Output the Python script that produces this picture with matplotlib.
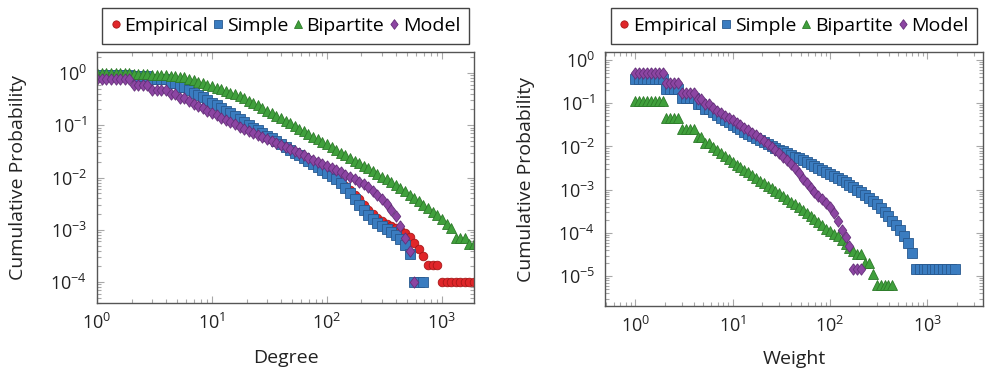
import numpy as np
import matplotlib
matplotlib.use('Agg')
import matplotlib.pyplot as plt
from matplotlib.ticker import LogLocator, NullFormatter

plt.rcParams['font.family'] = ['Open Sans', 'DejaVu Sans']
plt.rcParams['mathtext.default'] = 'regular'

# x positions of the plotted samples (shared by both panels)
x_grid = [1.0, 1.1, 1.2, 1.32, 1.45, 1.58, 1.74, 1.91, 2.09, 2.29,
          2.51, 2.75, 3.02, 3.31, 3.63, 3.98, 4.37, 4.79, 5.25, 5.75,
          6.31, 6.92, 7.59, 8.32, 9.12, 10.0, 11.0, 12.0, 13.2, 14.5,
          15.8, 17.4, 19.1, 20.9, 22.9, 25.1, 27.5, 30.2, 33.1, 36.3,
          39.8, 43.7, 47.9, 52.5, 57.5, 63.1, 69.2, 75.9, 83.2, 91.2,
          100, 110, 120, 132, 145, 158, 174, 191, 209, 229,
          251, 275, 302, 331, 363, 398, 437, 479, 525, 575,
          631, 692, 759, 832, 912, 1000, 1100, 1200, 1320, 1450,
          1580, 1740, 1910]

# left panel: degree CCDF
deg_empirical = [0.9, 0.9, 0.9, 0.9, 0.9, 0.9, 0.9, 0.9, 0.86, 0.86,
                 0.86, 0.86, 0.75, 0.75, 0.75, 0.75, 0.63, 0.63, 0.54, 0.54,
                 0.47, 0.42, 0.38, 0.34, 0.3, 0.27, 0.24, 0.215, 0.19, 0.168,
                 0.148, 0.13, 0.115, 0.102, 0.09, 0.08, 0.071, 0.063, 0.056, 0.049,
                 0.044, 0.039, 0.034, 0.03, 0.027, 0.0235, 0.0205, 0.018, 0.0158, 0.0138,
                 0.012, 0.0105, 0.0093, 0.008, 0.0068, 0.0058, 0.0047, 0.0038, 0.003, 0.0024,
                 0.002, 0.0017, 0.0015, 0.0013, 0.0012, 0.0011, 9.8e-4, 8.5e-4, 7.2e-4, 5.5e-4,
                 4.2e-4, 3.1e-4, 2.1e-4, 2.1e-4, 2.1e-4, 1e-4, 1e-4, 1e-4, 1e-4, 1e-4,
                 1e-4, 1e-4, 1e-4]
deg_simple = [0.9, 0.9, 0.9, 0.9, 0.9, 0.9, 0.9, 0.9, 0.86, 0.86,
              0.86, 0.86, 0.75, 0.75, 0.75, 0.75, 0.63, 0.63, 0.54, 0.54,
              0.47, 0.42, 0.38, 0.34, 0.3, 0.27, 0.24, 0.215, 0.19, 0.168,
              0.148, 0.13, 0.115, 0.102, 0.09, 0.08, 0.071, 0.063, 0.056, 0.049,
              0.044, 0.039, 0.034, 0.03, 0.027, 0.0235, 0.0205, 0.018, 0.0158, 0.0138,
              0.012, 0.0105, 0.0092, 0.0078, 0.0064, 0.005, 0.0039, 0.003, 0.0024, 0.0019,
              0.0016, 0.00135, 0.0012, 0.00105, 9.2e-4, 8e-4, 6.8e-4, 5.2e-4, 3.5e-4, 1e-4,
              1e-4, 1e-4]
deg_bipartite = [1.0, 1.0, 1.0, 1.0, 1.0, 1.0, 1.0, 1.0, 0.97, 0.97,
                 0.97, 0.97, 0.93, 0.93, 0.93, 0.93, 0.88, 0.88, 0.82, 0.82,
                 0.77, 0.72, 0.68, 0.64, 0.6, 0.56, 0.52, 0.49, 0.45, 0.42,
                 0.39, 0.355, 0.325, 0.295, 0.265, 0.24, 0.215, 0.19, 0.17, 0.152,
                 0.136, 0.121, 0.108, 0.096, 0.085, 0.076, 0.068, 0.06, 0.054, 0.048,
                 0.043, 0.038, 0.034, 0.03, 0.027, 0.024, 0.021, 0.019, 0.0168, 0.015,
                 0.0133, 0.0118, 0.0104, 0.0092, 0.0081, 0.0071, 0.0062, 0.0054, 0.0047, 0.0041,
                 0.0035, 0.003, 0.0026, 0.0022, 0.0019, 0.0016, 0.0013, 0.00107, 6.9e-4, 6.9e-4,
                 6.9e-4, 5.4e-4, 5.4e-4]
deg_model = [0.77, 0.77, 0.77, 0.77, 0.77, 0.77, 0.77, 0.77, 0.58, 0.58,
             0.58, 0.58, 0.48, 0.48, 0.48, 0.48, 0.4, 0.4, 0.33, 0.33,
             0.29, 0.26, 0.235, 0.21, 0.19, 0.172, 0.155, 0.14, 0.127, 0.115,
             0.104, 0.094, 0.086, 0.079, 0.072, 0.066, 0.06, 0.055, 0.05, 0.046,
             0.042, 0.038, 0.035, 0.032, 0.029, 0.0265, 0.024, 0.022, 0.02, 0.018,
             0.0165, 0.015, 0.0137, 0.0125, 0.0113, 0.0103, 0.0093, 0.0083, 0.0074, 0.0065,
             0.0056, 0.0047, 0.0039, 0.0031, 0.0024, 0.0018, 0.0012, 7e-4, 4e-4, 1e-4]

# right panel: weight CCDF
w_simple = [0.37, 0.37, 0.37, 0.37, 0.37, 0.37, 0.37, 0.37, 0.21, 0.21,
            0.21, 0.21, 0.13, 0.13, 0.13, 0.13, 0.097, 0.097, 0.075, 0.075,
            0.062, 0.053, 0.046, 0.041, 0.036, 0.032, 0.028, 0.025, 0.022, 0.0195,
            0.0173, 0.0155, 0.0138, 0.0124, 0.0112, 0.0101, 0.0092, 0.0084, 0.0077, 0.007,
            0.0064, 0.0058, 0.0053, 0.0048, 0.0044, 0.004, 0.0036, 0.0032, 0.0029, 0.0026,
            0.0023, 0.0021, 0.0019, 0.0017, 0.0015, 0.0013, 0.00115, 0.001, 8.8e-4, 7.6e-4,
            6.5e-4, 5.5e-4, 4.6e-4, 3.8e-4, 3.1e-4, 2.5e-4, 1.9e-4, 1.5e-4, 1.15e-4, 8.5e-5,
            6e-5, 3.5e-5, 1.5e-5, 1.5e-5, 1.5e-5, 1.5e-5, 1.5e-5, 1.5e-5, 1.5e-5, 1.5e-5,
            1.5e-5, 1.5e-5, 1.5e-5]
w_empirical = list(w_simple)  # sits right under the Simple squares
w_bipartite = [0.11, 0.11, 0.11, 0.11, 0.11, 0.11, 0.11, 0.11, 0.045, 0.045,
               0.045, 0.045, 0.026, 0.026, 0.026, 0.026, 0.017, 0.017, 0.012, 0.012,
               0.0095, 0.0082, 0.007, 0.006, 0.0051, 0.0043, 0.0038, 0.0033, 0.0029, 0.0025,
               0.0022, 0.0019, 0.0016, 0.0014, 0.00122, 0.00107, 9.4e-4, 8.2e-4, 7.1e-4, 6.2e-4,
               5.3e-4, 4.6e-4, 4e-4, 3.4e-4, 2.9e-4, 2.5e-4, 2.1e-4, 1.8e-4, 1.5e-4, 1.25e-4,
               1.08e-4, 9.5e-5, 8.5e-5, 7e-5, 5.5e-5, 4.5e-5, 3.8e-5, 3.3e-5, 3.3e-5, 2e-5,
               2e-5, 1.15e-5, 6.2e-6, 6.2e-6, 6.2e-6, 6.2e-6, 6.2e-6]
w_model = [0.5, 0.5, 0.5, 0.5, 0.5, 0.5, 0.5, 0.5, 0.29, 0.29,
           0.29, 0.29, 0.17, 0.17, 0.17, 0.17, 0.125, 0.125, 0.095, 0.095,
           0.078, 0.066, 0.058, 0.051, 0.045, 0.04, 0.035, 0.031, 0.027, 0.024,
           0.021, 0.018, 0.0155, 0.0135, 0.0115, 0.0098, 0.0083, 0.007, 0.0058, 0.0048,
           0.0039, 0.0031, 0.0024, 0.0018, 0.0014, 0.0011, 8.8e-4, 7.2e-4, 6e-4, 4.9e-4,
           3.9e-4, 2.9e-4, 1.9e-4, 1.2e-4, 8e-5, 5e-5, 1.5e-5, 1.5e-5, 1.5e-5]

labels = ['Empirical', 'Simple', 'Bipartite', 'Model']
colors = ['#e0262a', '#3a7cc0', '#40a03c', '#8c45a2']
edges = ['#a81818', '#28598f', '#2d7a2a', '#65307a']
diamond = [(0, 1), (0.75, 0), (0, -1), (-0.75, 0), (0, 1)]
markers = ['o', 's', '^', diamond]
msizes = [6.2, 6.5, 7.4, 8.2]


def draw(ax, series, xlim, ylim, xlabel, xlabel_y):
    for y, lab, c, e, m, s in zip(series, labels, colors, edges, markers, msizes):
        ax.plot(x_grid[:len(y)], y, linestyle='none', marker=m, ms=s,
                mfc=c, mec=e, mew=0.6, label=lab)
    ax.set_xscale('log')
    ax.set_yscale('log')
    ax.set_xlim(*xlim)
    ax.set_ylim(*ylim)
    for axis in (ax.xaxis, ax.yaxis):
        axis.set_major_locator(LogLocator(base=10, numticks=20))
        axis.set_minor_locator(LogLocator(base=10, subs=np.arange(2, 10), numticks=100))
        axis.set_minor_formatter(NullFormatter())
    ax.tick_params(which='both', direction='in', top=True, right=True,
                   color='#a8a8a8', width=0.8, labelsize=13, labelcolor='#222222')
    ax.tick_params(which='major', length=5, pad=7)
    ax.tick_params(which='minor', length=3)
    for sp in ax.spines.values():
        sp.set_color('#555555')
        sp.set_linewidth(1.0)
    ax.set_xlabel(xlabel, fontsize=14, color='#222222')
    ax.set_ylabel('Cumulative Probability', fontsize=14, color='#222222')
    ax.xaxis.set_label_coords(0.5, xlabel_y)
    ax.yaxis.set_label_coords(-0.186, 0.5)
    leg = ax.legend(loc='center', bbox_to_anchor=(0.5, 1.103), ncol=4,
                    fancybox=False, edgecolor='#444444', framealpha=1,
                    handlelength=0.5, handletextpad=0.2, columnspacing=0.25,
                    borderpad=0.45, borderaxespad=0, fontsize=14, markerscale=0.85)
    leg.get_frame().set_linewidth(1.0)


fig = plt.figure(figsize=(9.85, 3.7), dpi=100)
ax1 = fig.add_axes([97 / 985, 1 - 303 / 370, 377 / 985, 251 / 370])
ax2 = fig.add_axes([605 / 985, 1 - 306 / 370, 378 / 985, 254 / 370])

draw(ax1, [deg_empirical, deg_simple, deg_bipartite, deg_model],
     (1, 10 ** 3.28), (10 ** -4.4, 10 ** 0.4), 'Degree', -0.185)
draw(ax2, [w_empirical, w_simple, w_bipartite, w_model],
     (10 ** -0.31, 10 ** 3.57), (10 ** -5.69, 10 ** 0.185), 'Weight', -0.175)

fig.savefig('out.png', dpi=100)
plt.close(fig)
